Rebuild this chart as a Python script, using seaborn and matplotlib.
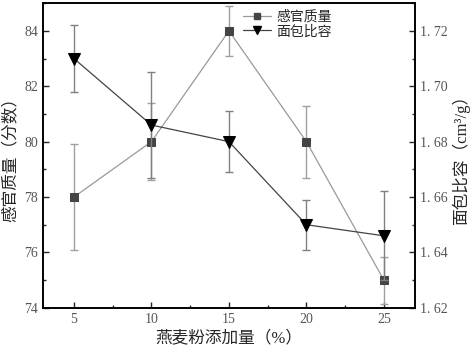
import numpy as np
import pandas as pd
import seaborn as sns
from matplotlib import pyplot as plt
from matplotlib.ticker import MultipleLocator

# 数据
oat_levels = [5, 10, 15, 20, 25]
sensory_score = [78, 80, 84, 80, 75]
sensory_err = [1.9, 1.4, 0.9, 1.3, 0.85]
bread_volume = [1.710, 1.686, 1.680, 1.650, 1.646]
volume_err = [0.012, 0.019, 0.011, 0.009, 0.016]

sns.set_style("ticks")
plt.rcParams['font.family'] = ['Liberation Serif', 'Noto Sans CJK SC']
plt.rcParams['font.size'] = 10
plt.rcParams['axes.unicode_minus'] = False

df = pd.DataFrame({"x": oat_levels, "score": sensory_score, "volume": bread_volume})

fig = plt.figure(figsize=(4.72, 3.51), dpi=100)
ax = fig.add_axes([0.091, 0.123, 0.788, 0.868])
ax2 = ax.twinx()

# 误差棒
ax.errorbar(oat_levels, sensory_score, yerr=sensory_err, fmt='none', ecolor='#a0a0a0',
            elinewidth=1, capsize=3, capthick=1, zorder=1)
ax2.errorbar(oat_levels, bread_volume, yerr=volume_err, fmt='none', ecolor='#808080',
             elinewidth=1, capsize=3, capthick=1, zorder=1)

sns.lineplot(data=df, x="x", y="score", ax=ax, color='#999999', lw=0.9, marker='s',
             markersize=6, markerfacecolor='#444444', markeredgecolor='#444444', legend=False)
sns.lineplot(data=df, x="x", y="volume", ax=ax2, color='#444444', lw=0.9, marker='v',
             markersize=8, markerfacecolor='black', markeredgecolor='black', legend=False)

ax.set_xlim(3, 27)
ax.set_ylim(74, 85)
ax2.set_ylim(1.62, 1.73)
ax.xaxis.set_major_locator(MultipleLocator(5))
ax.xaxis.set_minor_locator(MultipleLocator(2.5))
ax.yaxis.set_major_locator(MultipleLocator(2))
ax.yaxis.set_minor_locator(MultipleLocator(1))
ax2.yaxis.set_major_locator(MultipleLocator(0.02))
ax2.yaxis.set_minor_locator(MultipleLocator(0.01))
ax2.yaxis.set_major_formatter(plt.FuncFormatter(lambda v, p: f"{v:.2f}".replace(".", ". ")))

for a in (ax, ax2):
    a.tick_params(which='major', direction='in', length=4, width=1, labelsize=10, labelcolor='#555555')
    a.tick_params(which='minor', direction='in', length=2, width=1)
    for s in a.spines.values():
        s.set_linewidth(1.2)
        s.set_color('black')

ax.set_xlabel("燕麦粉添加量（%）", fontsize=12, labelpad=4)
ax.set_ylabel("感官质量（分数）", fontsize=12, labelpad=4)
ax2.set_ylabel("面包比容（cm³/g）", fontsize=12, labelpad=3)

h1 = plt.Line2D([], [], color='#999999', marker='s', markersize=5, markerfacecolor='#444444',
                markeredgecolor='#444444', lw=0.9)
h2 = plt.Line2D([], [], color='#444444', marker='v', markersize=6, markerfacecolor='black',
                markeredgecolor='black', lw=0.9)
ax2.legend([h1, h2], ["感官质量", "面包比容"], loc='upper left', bbox_to_anchor=(0.52, 1.0),
           frameon=False, fontsize=10, handlelength=2, handletextpad=0.4,
           borderaxespad=0.1, labelspacing=0.1)

fig.savefig("out.png", dpi=100)
